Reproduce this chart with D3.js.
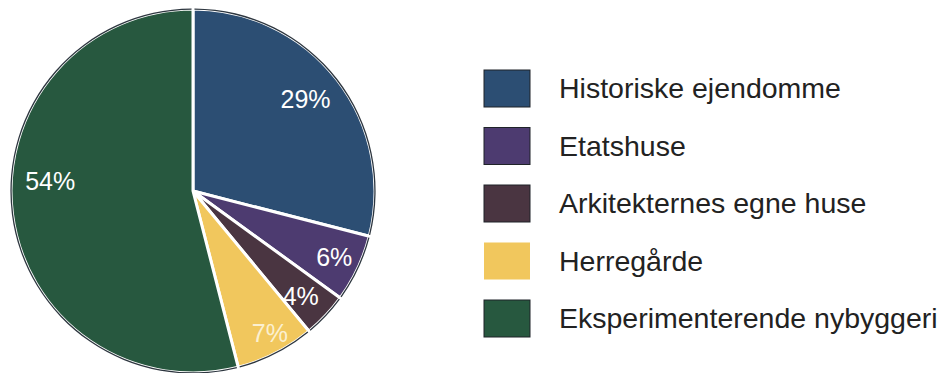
<!DOCTYPE html>
<html>
<head>
<meta charset="utf-8">
<script src="https://cdn.jsdelivr.net/npm/d3@7/dist/d3.min.js"></script>
<style>
  html, body { margin: 0; padding: 0; background: #fff; }
  svg { display: block; font-family: "Liberation Sans", Arial, sans-serif; }
</style>
</head>
<body>
<svg id="chart" width="942" height="373"></svg>
<script>
// Building types and their share (%)
const categories = [
  "Historiske ejendomme",
  "Etatshuse",
  "Arkitekternes egne huse",
  "Herregårde",
  "Eksperimenterende nybyggeri"
];
const shares = [29, 6, 4, 7, 54];
const palette = ["#2c4e73", "#4d3b70", "#4a3541", "#f1c75d", "#27583f"];

// small per-label offsets from the slice centroid (px)
const labelNudge = [[-2, -3], [10, 5], [2, 6], [11, 13], [1, -28]];

const svg = d3.select("#chart");
const cx = 193, cy = 191, R = 182;

const color = d3.scaleOrdinal().domain(categories).range(palette);

const pie = d3.pie().sort(null).value(d => d.value);
const arcs = pie(categories.map((c, i) => ({ name: c, value: shares[i] })));

const arc = d3.arc().innerRadius(0).outerRadius(R);
const labelArc = d3.arc().innerRadius(145).outerRadius(145);

const g = svg.append("g").attr("transform", `translate(${cx},${cy})`);

g.selectAll("path.slice")
  .data(arcs)
  .join("path")
  .attr("class", "slice")
  .attr("d", arc)
  .attr("fill", d => color(d.data.name))
  .attr("stroke", "#fff")
  .attr("stroke-width", 3)
  .attr("stroke-linejoin", "round");

// thin dark rim
g.selectAll("path.rim")
  .data(arcs)
  .join("path")
  .attr("class", "rim")
  .attr("d", d => d3.arc().innerRadius(R - 0.7).outerRadius(R + 0.6)
      .startAngle(d.startAngle + 0.008).endAngle(d.endAngle - 0.008)())
  .attr("fill", "#16202a")
  .attr("opacity", 0.9);

g.selectAll("text.pct")
  .data(arcs)
  .join("text")
  .attr("class", "pct")
  .attr("transform", d => {
    const [x, y] = labelArc.centroid(d);
    const [nx, ny] = labelNudge[d.index];
    return `translate(${x + nx},${y + ny})`;
  })
  .attr("text-anchor", "middle")
  .attr("dy", "0.35em")
  .attr("fill", d => d.index === 3 ? "#fbf0d0" : "#ffffff")
  .attr("font-size", 25)
  .text(d => d.data.value + "%");

// legend
const legend = svg.append("g").attr("transform", "translate(484,70)");
const step = 57.5;
const row = legend.selectAll("g.row")
  .data(categories)
  .join("g")
  .attr("class", "row")
  .attr("transform", (d, i) => `translate(0,${i * step})`);

row.append("rect")
  .attr("width", 46).attr("height", 37)
  .attr("fill", d => color(d))
  .attr("stroke", (d, i) => i === 3 ? "none" : "#1f2328")
  .attr("stroke-width", 1);

row.append("text")
  .attr("x", 75)
  .attr("y", 18.5)
  .attr("dy", "0.35em")
  .attr("font-size", 28.5)
  .attr("fill", "#222")
  .text(d => d);
</script>
</body>
</html>
